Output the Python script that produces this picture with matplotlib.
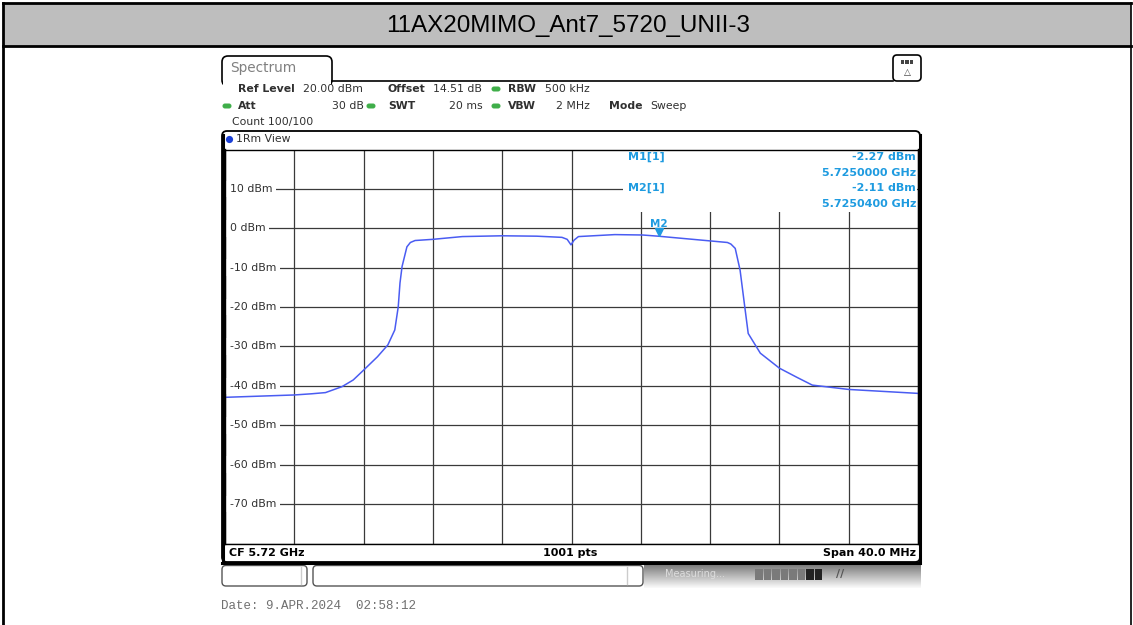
import numpy as np
import matplotlib
matplotlib.use("Agg")
import matplotlib.pyplot as plt
from matplotlib.patches import FancyBboxPatch, Rectangle, Circle

# trace (frequency in GHz, level in dBm)
freq_ghz = [5.7000, 5.7020, 5.7040, 5.7050, 5.7058, 5.70675, 5.7074, 5.7080,
            5.7088, 5.7094, 5.7098, 5.7100, 5.7101, 5.71022, 5.7105, 5.7107,
            5.71097, 5.7120, 5.7137, 5.7160, 5.7180, 5.71945, 5.71975, 5.71997,
            5.72015, 5.7204, 5.7225, 5.7241, 5.7250, 5.7265, 5.7280, 5.7290,
            5.7292, 5.72945, 5.72973, 5.7300, 5.7302, 5.7309, 5.7320, 5.7330,
            5.7339, 5.7360, 5.7380, 5.7400]
level_dbm = [-42.9, -42.6, -42.3, -42.0, -41.7, -40.2, -38.5, -36.0,
             -32.6, -29.6, -25.8, -19.9, -13.9, -9.7, -4.7, -3.6,
             -3.1, -2.8, -2.1, -1.9, -2.0, -2.3, -2.8, -4.2,
             -3.0, -2.1, -1.6, -1.7, -2.0, -2.6, -3.2, -3.6,
             -4.0, -5.1, -10.6, -19.9, -26.7, -31.7, -35.5, -37.8,
             -39.8, -40.9, -41.4, -41.9]

ytick_vals = [10, 0, -10, -20, -30, -40, -50, -60, -70]
marker_freq = [5.7250000, 5.7250400]
marker_level = [-2.27, -2.11]

title = "11AX20MIMO_Ant7_5720_UNII-3"
W, H = 1133, 625
TRACE = "#4a5cf2"
MBLUE = "#1e9be0"
GREEN = "#3fae49"
TXT = "#303030"

fig = plt.figure(figsize=(W / 100, H / 100), dpi=100)

# background axes in pixel coordinates for the frame decorations
bg = fig.add_axes([0, 0, 1, 1])
bg.set_xlim(0, W)
bg.set_ylim(H, 0)
bg.axis("off")

# title band
bg.add_patch(Rectangle((2.5, 2.5), W - 5, 43.5, facecolor="#bebebe", edgecolor="none"))
bg.plot([2.5, W - 2.5], [2.5, 2.5], color="black", lw=2)
bg.plot([2.5, W - 2.5], [46, 46], color="black", lw=2)
bg.plot([2.5, 2.5], [2.5, H], color="black", lw=2)
bg.plot([W - 2.5, W - 2.5], [2.5, H], color="black", lw=1.2)
bg.text(568, 26, title, ha="center", va="center", fontsize=17.4,
        family="Liberation Sans", color="black")

# Spectrum tab + header line + icon
bg.add_patch(FancyBboxPatch((222, 56), 110, 30, boxstyle="round,pad=0,rounding_size=6",
                            facecolor="white", edgecolor="black", lw=1.2))
bg.plot([332, 893], [81, 81], color="black", lw=1.2)
bg.add_patch(Rectangle((223, 81), 108, 6, facecolor="white", edgecolor="none"))
bg.text(230, 68, "Spectrum", ha="left", va="center", fontsize=9.8, color="#808080")
bg.add_patch(FancyBboxPatch((893, 55), 28, 26, boxstyle="round,pad=0,rounding_size=4",
                            facecolor="white", edgecolor="black", lw=1.2))
for i in range(3):
    bg.add_patch(Rectangle((900.5 + i * 4.5, 59.5), 3.5, 4, facecolor="#444444", edgecolor="none"))
bg.text(907, 72, "\u25b3", ha="center", va="center", fontsize=6.5, color="#404040")

# setting rows
fs = 7.8
rows = [
    (238, 89, "Ref Level", True), (303, 89, "20.00 dBm", False),
    (388, 89, "Offset", True), (433, 89, "14.51 dB", False),
    (508, 89, "RBW", True), (545, 89, "500 kHz", False),
    (238, 106, "Att", True), (388, 106, "SWT", True),
    (508, 106, "VBW", True), (609, 106, "Mode", True), (650, 106, "Sweep", False),
    (232, 122, "Count 100/100", False),
]
for x, y, s, b in rows:
    bg.text(x, y, s, ha="left", va="center", fontsize=fs, color=TXT,
            fontweight="bold" if b else "normal")
bg.text(364, 106, "30 dB", ha="right", va="center", fontsize=fs, color=TXT)
bg.text(483, 106, "20 ms", ha="right", va="center", fontsize=fs, color=TXT)
bg.text(590, 106, "2 MHz", ha="right", va="center", fontsize=fs, color=TXT)
for x, y in [(496, 89), (227, 106), (371, 106), (496, 106)]:
    bg.add_patch(FancyBboxPatch((x - 4.5, y - 2.5), 9, 5, boxstyle="round,pad=0,rounding_size=2.5",
                                facecolor=GREEN, edgecolor="none"))

# diagram frame
bg.add_patch(FancyBboxPatch((222, 131), 698, 431, boxstyle="round,pad=0,rounding_size=5",
                            facecolor="white", edgecolor="black", lw=1.3))
bg.plot([222.5, 222.5], [135, 560], color="black", lw=2.2)
bg.plot([919.5, 919.5], [135, 560], color="black", lw=2.2)
bg.plot([222, 920], [562.5, 562.5], color="black", lw=2.2)
bg.add_patch(Circle((229.5, 139.5), 3.6, facecolor="#1a3fd6", edgecolor="none"))
bg.text(236, 139.5, "1Rm View", ha="left", va="center", fontsize=7.8, color=TXT)
bg.text(229, 552.5, "CF 5.72 GHz", ha="left", va="center", fontsize=8, fontweight="bold", color="black")
bg.text(570, 552.5, "1001 pts", ha="center", va="center", fontsize=8, fontweight="bold", color="black")
bg.text(916, 552.5, "Span 40.0 MHz", ha="right", va="center", fontsize=8, fontweight="bold", color="black")

# status row under the diagram
bg.add_patch(FancyBboxPatch((222, 565.5), 85, 20.5, boxstyle="round,pad=0,rounding_size=4",
                            facecolor="white", edgecolor="#555555", lw=1))
bg.plot([301, 301], [567, 584], color="#cccccc", lw=1)
bg.add_patch(FancyBboxPatch((313, 565.5), 330, 20.5, boxstyle="round,pad=0,rounding_size=4",
                            facecolor="white", edgecolor="#555555", lw=1))
bg.plot([627, 627], [567, 584], color="#cccccc", lw=1)
grad = np.linspace(0.45, 0.98, 50)[:, None] * np.ones((50, 10))
bg.imshow(grad, cmap="gray", vmin=0, vmax=1, extent=(644, 921, 588, 563), aspect="auto", zorder=1)
bg.text(665, 574, "Measuring...", ha="left", va="center", fontsize=7, color="#dcdcdc",
        zorder=2)
for i in range(8):
    c = "#222222" if i >= 6 else "#7a7a7a"
    bg.add_patch(Rectangle((755 + i * 8.5, 569), 7.5, 11, facecolor=c, edgecolor="none", zorder=2))
bg.text(840, 574, "\u2215\u2215", ha="center", va="center", fontsize=8, color="#555555",
        fontweight="bold", zorder=2)

bg.text(221, 606, "Date: 9.APR.2024  02:58:12", ha="left", va="center", fontsize=9,
        family="Liberation Mono", color="#707070")

# spectrum axes placed on the grid area
x0, x1, y_top, y_bot = 225, 918, 149.5, 543.5
ax = fig.add_axes([x0 / W, 1 - y_bot / H, (x1 - x0) / W, (y_bot - y_top) / H])
ax.set_facecolor("none")
ax.set_xlim(5.70, 5.74)
ax.set_ylim(-80, 20)
ax.set_xticks(np.linspace(5.70, 5.74, 11))
ax.set_yticks(np.arange(-80, 21, 10))
ax.tick_params(length=0, labelbottom=False, labelleft=False)
ax.grid(True, color="#3a3a3a", lw=0.9)
for sp in ax.spines.values():
    sp.set_color("black")
    sp.set_linewidth(1)
    sp.set_zorder(6)

ax.plot(freq_ghz, level_dbm, color=TRACE, lw=1.1, zorder=3)

# level labels sit on the grid lines
for v in ytick_vals:
    ax.text(5.70028, v, f"{v} dBm", ha="left", va="center", fontsize=7.8, color=TXT,
            bbox=dict(facecolor="white", edgecolor="none", pad=2.4), zorder=4)

# marker readout box
ax.add_patch(Rectangle((623, y_top + 1.2), x1 - 623 - 0.6, 212 - y_top - 1.2, transform=bg.transData,
                       facecolor="white", edgecolor="none", zorder=4))
mfs = 8
ax.text(628, 157, "M1[1]", transform=bg.transData, ha="left", va="center", fontsize=mfs,
        color=MBLUE, fontweight="bold", zorder=5)
ax.text(628, 188, "M2[1]", transform=bg.transData, ha="left", va="center", fontsize=mfs,
        color=MBLUE, fontweight="bold", zorder=5)
ax.text(916, 157, f"{marker_level[0]:.2f} dBm", transform=bg.transData, ha="right", va="center",
        fontsize=mfs, color=MBLUE, fontweight="bold", zorder=5)
ax.text(916, 172.5, f"{marker_freq[0]:.7f} GHz", transform=bg.transData, ha="right", va="center",
        fontsize=mfs, color=MBLUE, fontweight="bold", zorder=5)
ax.text(916, 188, f"{marker_level[1]:.2f} dBm", transform=bg.transData, ha="right", va="center",
        fontsize=mfs, color=MBLUE, fontweight="bold", zorder=5)
ax.text(916, 204, f"{marker_freq[1]:.7f} GHz", transform=bg.transData, ha="right", va="center",
        fontsize=mfs, color=MBLUE, fontweight="bold", zorder=5)

# M2 marker on the trace
ax.plot(marker_freq[1], marker_level[1] + 1.2, marker="v", color=MBLUE, ms=6, zorder=5)
ax.text(marker_freq[1], marker_level[1] + 3.3, "M2", ha="center", va="center", fontsize=7.5,
        color=MBLUE, fontweight="bold", zorder=5)

fig.savefig("out.png", dpi=100)
